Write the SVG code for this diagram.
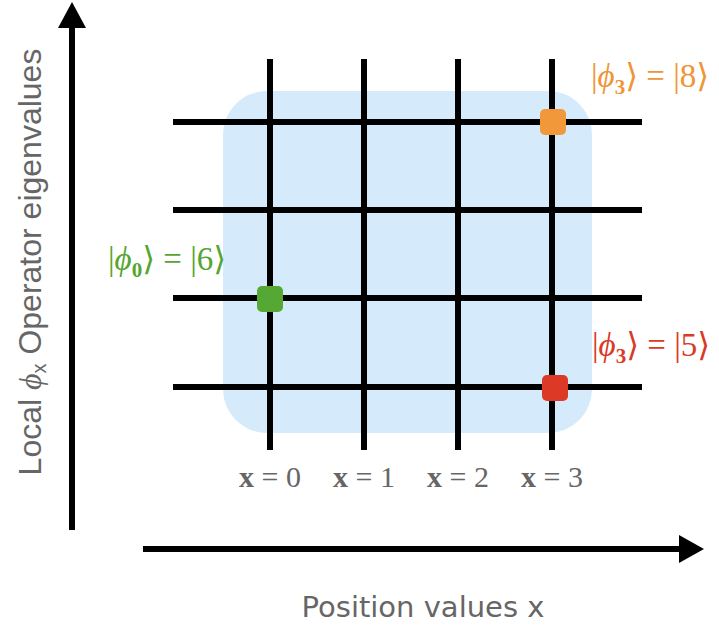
<svg xmlns="http://www.w3.org/2000/svg" width="719" height="628" viewBox="0 0 719 628">
<style>
.grid line{stroke:#000;stroke-width:6}
.axis{stroke:#000;stroke-width:6}
.ax-label{font-family:"Liberation Sans","DejaVu Sans",sans-serif;fill:#666}
.math{font-family:"Liberation Serif","DejaVu Serif",serif;font-size:33px}
.xl{font-family:"Liberation Serif","DejaVu Serif",serif;font-size:30px;fill:#666;text-anchor:middle}
.b{font-weight:bold}
.it{font-style:italic}
</style>
<rect id="region" x="223" y="91" width="369" height="342" rx="44" fill="#d5eafa"/>
<g id="connectors">
<g class="grid">
<line x1="270" y1="59" x2="270" y2="450"/>
<line x1="364" y1="59" x2="364" y2="450"/>
<line x1="458" y1="59" x2="458" y2="450"/>
<line x1="552" y1="59" x2="552" y2="450"/>
<line x1="173" y1="122" x2="642" y2="122"/>
<line x1="173" y1="210" x2="642" y2="210"/>
<line x1="173" y1="298" x2="642" y2="298"/>
<line x1="173" y1="387" x2="642" y2="387"/>
</g>
<g id="y-axis">
<line class="axis" x1="72" y1="530" x2="72" y2="24"/>
<polygon points="72,2 58,28 86,28" fill="#000"/>
</g>
<g id="x-axis">
<line class="axis" x1="143" y1="549" x2="682" y2="549"/>
<polygon points="704,549 679,535 679,563" fill="#000"/>
</g>
</g>
<g id="node-phi3-8">
<rect x="540" y="109" width="26" height="26" rx="5" fill="#f0983a"/>
<text class="math" x="591" y="87" fill="#ef9535">|<tspan class="it">ϕ</tspan><tspan class="b" font-size="21" dy="7">3</tspan><tspan dy="-7">⟩ = |8⟩</tspan></text>
</g>
<g id="node-phi0-6">
<rect x="257" y="286" width="26" height="26" rx="5" fill="#56a834"/>
<text class="math" x="108" y="270" fill="#55a630">|<tspan class="it">ϕ</tspan><tspan class="b" font-size="21" dy="7">0</tspan><tspan dy="-7">⟩ = |6⟩</tspan></text>
</g>
<g id="node-phi3-5">
<rect x="542" y="375" width="26" height="26" rx="5" fill="#dc3a26"/>
<text class="math" x="592" y="356" fill="#d93a26">|<tspan class="it">ϕ</tspan><tspan class="b" font-size="21" dy="7">3</tspan><tspan dy="-7">⟩ = |5⟩</tspan></text>
</g>
<g id="x-labels">
<text class="xl" x="270" y="487"><tspan class="b">x</tspan> = 0</text>
<text class="xl" x="364" y="487"><tspan class="b">x</tspan> = 1</text>
<text class="xl" x="458" y="487"><tspan class="b">x</tspan> = 2</text>
<text class="xl" x="552" y="487"><tspan class="b">x</tspan> = 3</text>
</g>
<text class="ax-label" x="0" y="0" font-size="32" text-anchor="middle" transform="translate(41,262) rotate(-90)">Local <tspan font-family="Liberation Serif,serif" font-style="italic">ϕ</tspan><tspan font-size="20" dy="5">x</tspan><tspan dy="-5"> Operator eigenvalues</tspan></text>
<text x="423" y="617" font-family="DejaVu Sans,sans-serif" font-size="29" fill="#666" text-anchor="middle">Position values x</text>
</svg>
